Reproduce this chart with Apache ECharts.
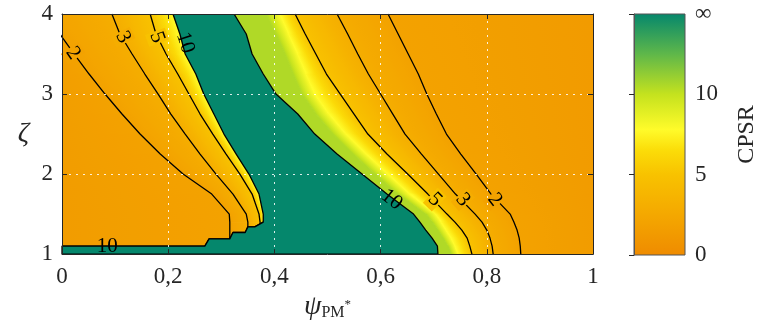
<!DOCTYPE html>
<html><head><meta charset="utf-8">
<script src="https://cdn.jsdelivr.net/npm/echarts@6/dist/echarts.min.js"></script>
<style>html,body{margin:0;padding:0;background:#fff}#c{width:776px;height:326px}</style>
</head><body><div id="c"></div>
<script>
// ---------------- data ----------------
const xTicks = [0, 0.2, 0.4, 0.6, 0.8, 1];
const yTicks = [1, 2, 3, 4];
const cbarTicks = [0, 5, 10, 15];           // 15 is drawn as ∞
// colormap of the CPSR colour bar
const cmapValues = [0, 2, 3, 5, 6.5, 7.8, 10, 12.5, 15];
const cmapColors = ['#EF8B00','#F3A200','#F5AD00','#F8C200','#FBDC08','#FFFB2A','#C4E21E','#5EB74A','#05876C'];

// rows of ζ at which every curve is sampled
const zetaRows = [4.0, 3.75, 3.5, 3.25, 3.0, 2.75, 2.5, 2.25, 2.0, 1.75, 1.5, 1.4, 1.3, 1.2, 1.1, 1.0];
// left family (ψ of each contour at each ζ row)
const c2Left = [-0.030,-0.004,0.023,0.051,0.081,0.113,0.147,0.185,0.228,0.282,0.315,0.316,0.316,0.316,0.316,0.316];
const c3Left = [0.094,0.109,0.132,0.156,0.181,0.205,0.232,0.260,0.290,0.322,0.347,0.350,0.350,0.350,0.350,0.350];
const c5Left = [0.166,0.177,0.196,0.218,0.239,0.260,0.284,0.309,0.335,0.358,0.371,0.373,0.373,0.373,0.373,0.373];
const infLeft = [0.209,0.222,0.232,0.252,0.267,0.286,0.305,0.328,0.352,0.371,0.379,0.379,0.379,0.379,0.379,0.379];
// right family
const infRight = [0.324,0.347,0.358,0.379,0.403,0.444,0.476,0.518,0.565,0.612,0.662,0.674,0.685,0.697,0.707,0.708];
const greenEdge = [0.384,0.403,0.420,0.435,0.452,0.478,0.510,0.548,0.589,0.633,0.685,0.697,0.708,0.717,0.727,0.733];
const yellowRidge = [0.411,0.427,0.444,0.460,0.476,0.503,0.535,0.573,0.614,0.655,0.704,0.714,0.723,0.733,0.740,0.746];
const c5Right = [0.439,0.458,0.478,0.498,0.524,0.550,0.576,0.612,0.651,0.689,0.725,0.740,0.753,0.763,0.768,0.772];
const c3Right = [0.518,0.538,0.557,0.577,0.600,0.623,0.646,0.677,0.709,0.741,0.778,0.791,0.800,0.806,0.810,0.812];
const c2Right = [0.614,0.633,0.652,0.671,0.687,0.705,0.724,0.751,0.780,0.808,0.844,0.851,0.857,0.861,0.863,0.864];
// bottom edge of the ∞ region (staircase floor)
const floorPsi  = [0, 0, 0.269, 0.277, 0.316, 0.322, 0.345, 0.350, 0.363, 0.379];
const floorZeta = [1.0, 1.10, 1.10, 1.19, 1.19, 1.27, 1.27, 1.34, 1.34, 1.40];
// contour labels
const labelTexts = ['2','3','5','10','10','10','5','3','2'];
const labelPsi   = [0.021,0.115,0.179,0.232,0.085,0.621,0.702,0.755,0.815];
const labelZeta  = [3.51,3.71,3.71,3.64,1.10,1.68,1.68,1.68,1.68];
const labelRot   = [-55,-63,-70,-72,0,-38,-45,-50,-52];
const labelLevel = [2,3,5,null,null,null,5,3,2];

// ---------------- helpers ----------------
const FONT = 'Liberation Serif';
const INK = '#262626';
function hex(c){return [parseInt(c.slice(1,3),16),parseInt(c.slice(3,5),16),parseInt(c.slice(5,7),16)];}
function colorAt(v){
  if (v <= cmapValues[0]) return cmapColors[0];
  for (let i=0;i<cmapValues.length-1;i++){
    if (v <= cmapValues[i+1]){
      const t=(v-cmapValues[i])/(cmapValues[i+1]-cmapValues[i]);
      const a=hex(cmapColors[i]), b=hex(cmapColors[i+1]);
      return 'rgb('+a.map((x,k)=>Math.round(x+(b[k]-x)*t)).join(',')+')';
    }
  }
  return cmapColors[cmapColors.length-1];
}
function stopsBetween(v0,v1){
  const s=[];const n=8;
  for(let k=0;k<=n;k++) s.push({offset:k/n,color:colorAt(v0+(v1-v0)*k/n)});
  return s;
}
const edge0 = zetaRows.map(()=>-0.05);
const edge1 = zetaRows.map(()=>1.05);
const bands = [
  {l: edge0,       r: c2Left,      v0: 1.4,  v1: 2},
  {l: c2Left,      r: c3Left,      v0: 2,    v1: 3},
  {l: c3Left,      r: c5Left,      v0: 3,    v1: 5},
  {l: c5Left,      r: infLeft,     v0: 5,    v1: 7.8},
  {l: infRight,    r: greenEdge,   v0: 10.5, v1: 10.5},
  {l: greenEdge,   r: yellowRidge, v0: 10.5, v1: 7.8},
  {l: yellowRidge, r: c5Right,     v0: 7.8,  v1: 5},
  {l: c5Right,     r: c3Right,     v0: 5,    v1: 3},
  {l: c3Right,     r: c2Right,     v0: 3,    v1: 2},
  {l: c2Right,     r: edge1,       v0: 2,    v1: 1.3}
];

function renderBands(params, api){
  const children=[];
  bands.forEach(b=>{
    for(let i=0;i<zetaRows.length-1;i++){
      const A=api.coord([b.l[i],zetaRows[i]]), B=api.coord([b.r[i],zetaRows[i]]);
      const C=api.coord([b.r[i+1],zetaRows[i+1]]), D=api.coord([b.l[i+1],zetaRows[i+1]]);
      const lm=[(A[0]+D[0])/2,(A[1]+D[1])/2], rm=[(B[0]+C[0])/2,(B[1]+C[1])/2];
      let sx=(D[0]-A[0])+(C[0]-B[0]), sy=(D[1]-A[1])+(C[1]-B[1]);
      const len=Math.hypot(sx,sy)||1;
      let nx=sy/len, ny=-sx/len;
      let dist=(rm[0]-lm[0])*nx+(rm[1]-lm[1])*ny;
      if(dist<0){nx=-nx;ny=-ny;dist=-dist;}
      if(dist<1) dist=1;
      const g=new echarts.graphic.LinearGradient(lm[0],lm[1],lm[0]+nx*dist,lm[1]+ny*dist,stopsBetween(b.v0,b.v1),true);
      children.push({type:'polygon',shape:{points:[A,B,C,D]},style:{fill:g,stroke:g,lineWidth:1}});
    }
  });
  return {type:'group',children};
}
function renderGreen(params, api){
  const pts=[];
  for(let i=0;i<floorPsi.length;i++) pts.push(api.coord([floorPsi[i],floorZeta[i]]));
  for(let i=11;i>=0;i--) pts.push(api.coord([infLeft[i],zetaRows[i]]));
  for(let i=0;i<zetaRows.length;i++) pts.push(api.coord([infRight[i],zetaRows[i]]));
  return {type:'polygon',shape:{points:pts},style:{fill:cmapColors[cmapColors.length-1],stroke:'#000',lineWidth:1.3,lineJoin:'round'}};
}
function renderLabel(params, api){
  const i=params.dataIndex;
  const p=api.coord([labelPsi[i],labelZeta[i]]);
  const lv=labelLevel[i];
  const st={x:0,y:0,text:labelTexts[i],font:'21px "'+FONT+'"',fill:'#000',textAlign:'center',textVerticalAlign:'middle'};
  if(lv!==null){st.backgroundColor=colorAt(lv);st.padding=[0,1];}
  return {type:'text',x:p[0],y:p[1],rotation:labelRot[i]*Math.PI/180,style:st};
}
function renderCbar(params, api){
  const top=api.coord([0,cbarTicks[cbarTicks.length-1]]), bot=api.coord([1,cbarTicks[0]]);
  const maxV=cbarTicks[cbarTicks.length-1];
  const stops=cmapValues.map((v,k)=>({offset:1-v/maxV,color:cmapColors[k]})).reverse();
  return {type:'rect',shape:{x:top[0],y:top[1],width:bot[0]-top[0],height:bot[1]-top[1]},
    style:{fill:new echarts.graphic.LinearGradient(0,0,0,1,stops),stroke:'#555',lineWidth:1}};
}
function curve(arr){return zetaRows.map((z,i)=>[arr[i],z]);}
const lineStyle={color:'#000',width:1.3};
const contourLines=[c2Left,c3Left,c5Left,c5Right,c3Right,c2Right].map(a=>({
  type:'line',xAxisIndex:0,yAxisIndex:0,data:curve(a),showSymbol:false,symbol:'none',
  lineStyle,z:3,clip:true,silent:true,animation:false
}));
const floorLine={type:'line',xAxisIndex:0,yAxisIndex:0,data:floorPsi.map((p,i)=>[p,floorZeta[i]]),symbol:'none',lineStyle,z:3,animation:false};

const fmt=v=>String(Math.round(v*10)/10).replace('.',',');
const dotted={show:true,showMinLine:false,showMaxLine:false,lineStyle:{color:'rgba(255,255,255,0.85)',type:[2,5],width:1}};
const axLine={show:true,onZero:false,lineStyle:{color:INK,width:1}};
const tick={show:true,inside:true,length:5,lineStyle:{color:INK}};

const chart=echarts.init(document.getElementById('c'),null,{renderer:'canvas'});
chart.setOption({
  animation:false,
  backgroundColor:'#fff',
  grid:[{left:62,top:14,width:531,height:241},{left:634,top:14,width:51,height:241}],
  xAxis:[
    {gridIndex:0,type:'value',min:xTicks[0],max:xTicks[xTicks.length-1],interval:0.2,position:'bottom',z:12,
     axisLine:axLine,axisTick:tick,splitLine:{show:false},
     axisLabel:{formatter:fmt,fontFamily:FONT,fontSize:23,color:INK,margin:11},
     name:'{a|ψ}{b|PM}{c|*}',nameLocation:'middle',nameGap:23,
     nameTextStyle:{rich:{a:{fontFamily:FONT,fontStyle:'italic',fontSize:28,color:INK},
       b:{fontFamily:FONT,fontSize:16,color:INK,padding:[12,0,0,0]},
       c:{fontFamily:FONT,fontSize:13,color:INK,padding:[0,0,4,0]}}}},
    {gridIndex:0,type:'value',min:0,max:1,interval:0.2,position:'top',z:11,
     axisLine:axLine,axisTick:tick,axisLabel:{show:false},splitLine:dotted},
    {gridIndex:1,type:'value',min:0,max:1,show:false}
  ],
  yAxis:[
    {gridIndex:0,type:'value',min:yTicks[0],max:yTicks[yTicks.length-1],interval:1,position:'left',z:12,
     axisLine:axLine,axisTick:tick,splitLine:{show:false},
     axisLabel:{fontFamily:FONT,fontSize:23,color:INK,margin:9},
     name:'ζ',nameLocation:'middle',nameRotate:0,nameGap:33,
     nameTextStyle:{fontFamily:FONT,fontStyle:'italic',fontSize:28,color:INK}},
    {gridIndex:0,type:'value',min:1,max:4,interval:1,position:'right',z:11,
     axisLine:axLine,axisTick:tick,axisLabel:{show:false},splitLine:dotted},
    {gridIndex:1,type:'value',min:cbarTicks[0],max:cbarTicks[cbarTicks.length-1],interval:5,position:'right',z:12,
     axisLine:{show:true,lineStyle:{color:'#555'}},axisTick:{show:true,inside:true,length:5,lineStyle:{color:INK}},
     splitLine:{show:false},
     axisLabel:{formatter:v=>v===15?'∞':String(v),fontFamily:FONT,fontSize:23,color:INK,margin:10},
     name:'CPSR',nameLocation:'middle',nameRotate:90,nameGap:50,
     nameTextStyle:{fontFamily:FONT,fontSize:24,color:INK}}
  ],
  series:[
    {type:'custom',xAxisIndex:0,yAxisIndex:0,data:[0],renderItem:renderBands,z:1,clip:true,silent:true},
    ...contourLines,
    floorLine,
    {type:'custom',xAxisIndex:0,yAxisIndex:0,data:[0],renderItem:renderGreen,z:4,clip:true,silent:true},
    {type:'custom',xAxisIndex:0,yAxisIndex:0,data:labelTexts.map((t,i)=>i),renderItem:renderLabel,z:5,clip:false,silent:true},
    {type:'custom',xAxisIndex:2,yAxisIndex:2,data:[0],renderItem:renderCbar,z:1,silent:true}
  ]
});
</script></body></html>
